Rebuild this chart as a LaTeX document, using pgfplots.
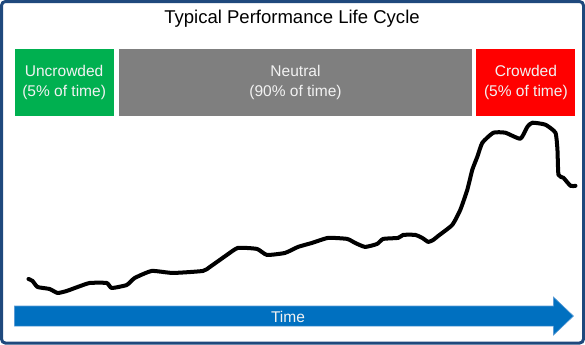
\documentclass[border=0pt]{standalone}
\usepackage{pgfplots}
\pgfplotsset{compat=1.18}
\usepackage{fontspec}
\setmainfont{Liberation Sans}
\definecolor{frameblue}{HTML}{1F497D}
\definecolor{ugreen}{HTML}{00B050}
\definecolor{ngray}{HTML}{7F7F7F}
\definecolor{cred}{HTML}{FF0000}
\definecolor{tblue}{HTML}{0070C0}
\definecolor{tblueedge}{HTML}{5B9BD5}
\definecolor{wtext}{HTML}{F2F2F2}
\begin{document}
\begin{tikzpicture}
\begin{axis}[
  scale only axis, width=585pt, height=345pt,
  xmin=0, xmax=585, ymin=0, ymax=345, y dir=reverse,
  hide axis, clip=false,
]
% frame
\draw[frameblue, line width=3pt, rounded corners=4pt] (axis cs:2,2) rectangle (axis cs:583,343);
% title
\node[font=\fontsize{18.5}{22}\selectfont, text=black] at (axis cs:292,19) {Typical Performance Life Cycle};
% boxes
\fill[ugreen] (axis cs:15,49) rectangle (axis cs:114,116);
\fill[ngray] (axis cs:119,49) rectangle (axis cs:472,116);
\fill[cred] (axis cs:476,49) rectangle (axis cs:575,116);
\node[text=wtext, align=center, font=\fontsize{15.5}{20}\selectfont] at (axis cs:64.5,83) {Uncrowded\\(5\% of time)};
\node[text=wtext, align=center, font=\fontsize{15.5}{20}\selectfont] at (axis cs:295.5,83) {Neutral\\(90\% of time)};
\node[text=wtext, align=center, font=\fontsize{15.5}{20}\selectfont] at (axis cs:525.5,83) {Crowded\\(5\% of time)};
% arrow
\filldraw[fill=tblue, draw=tblueedge, line width=0.6pt] (axis cs:15,306) -- (axis cs:553,306) -- (axis cs:553,297) -- (axis cs:573,316) -- (axis cs:553,335) -- (axis cs:553,326) -- (axis cs:15,326) -- cycle;
\node[text=wtext, font=\fontsize{15.5}{20}\selectfont] at (axis cs:288,317) {Time};
% performance line
\addplot[black, line width=4pt, line join=round, line cap=round, smooth, tension=0.3] coordinates {
(29,279) (33,281) (38,287) (50,289) (58,293) (67,291) (78,287) (90,283) (107,283) (112,288) (127,285) (135,278) (152,271) (173,273) (203,271) (210,267) (227,255) (238,248) (257,249) (267,255) (285,253) (298,247) (312,243) (328,238) (347,239) (355,243) (365,247) (377,244) (383,239) (398,238) (403,235) (415,235) (422,238) (428,242) (433,240) (438,236) (452,225) (460,210) (467,190) (472,170) (477,157) (482,143) (493,133) (505,133) (520,139) (527,127) (532,123) (545,125) (555,133) (557,150) (558,175) (563,178) (570,186) (575,186)
};
\end{axis}
\end{tikzpicture}
\end{document}
